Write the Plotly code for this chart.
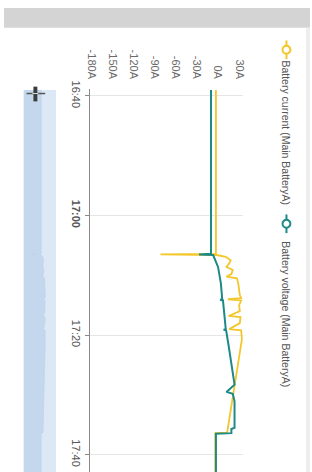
import plotly.graph_objects as go

W, H = 312, 472
DAY = "2024-01-01 "

# ---- data ----
current_times = ["16:39:00", "16:45:00", "16:50:00", "16:55:00", "17:00:00", "17:05:00",
                 "17:06:24", "17:06:30", "17:06:36", "17:06:54", "17:07:30", "17:08:00",
                 "17:08:36", "17:09:06", "17:09:48", "17:10:12", "17:10:30", "17:11:30",
                 "17:12:30", "17:13:18", "17:13:48", "17:14:00", "17:14:12", "17:15:00",
                 "17:16:00", "17:16:48", "17:17:00", "17:18:00", "17:19:00", "17:19:12",
                 "17:20:42", "17:23:00", "17:25:00", "17:27:12", "17:28:54", "17:30:30",
                 "17:32:00", "17:33:48", "17:36:00", "17:36:18", "17:36:24", "17:40:00",
                 "17:43:30"]
current_values = [-3, -3, -3, -3, -3, -3,
                  -3, -82, -2, 11, 18, 16,
                  12, 21, 19, 12, 27, 29,
                  30, 31, 33, 14, 33, 30,
                  31, 15, 32, 31, 16, 33,
                  34, 31, 28, 25, 23, 21,
                  19, 16, 13, 13, -4, -4,
                  -4]

voltage_times = ["16:39:00", "16:45:00", "16:50:00", "16:55:00", "17:00:00", "17:05:00",
                 "17:06:24", "17:06:30", "17:06:36", "17:08:36", "17:11:18", "17:14:00",
                 "17:14:06", "17:14:12", "17:16:48", "17:19:00", "17:19:06", "17:19:12",
                 "17:21:42", "17:26:42", "17:28:18", "17:29:30", "17:29:48", "17:31:06",
                 "17:35:30", "17:35:42", "17:36:24", "17:36:30", "17:40:00", "17:43:30"]
voltage_values = [-10, -10, -10, -10, -10, -10,
                  -10, -27, -7, 0, 4, 6,
                  3, 7, 9, 11, 8, 11.5,
                  15, 21, 23.5, 12, 21, 23.5,
                  23.5, 19, 19, -3, -3, -3]

time_ticks = ["16:40", "17:00", "17:20", "17:40"]
time_tick_labels = ["16:40", "<b>17:00</b>", "17:20", "17:40"]
value_ticks = [-180, -150, -120, -90, -60, -30, 0, 30]
value_tick_labels = ["-180A", "-150A", "-120A", "-90A", "-60A", "-30A", "0A", "30A"]
series_names = ["Battery current (Main BatteryA)", "Battery voltage (Main BatteryA)"]

TIME_RANGE = ["17:42:54", "16:38:46"]   # bottom, top (reversed)
VALUE_RANGE = [-182, 36]
NAV_RANGE = [-165, 132]

YELLOW = "#f3c62a"
TEAL = "#1d8a88"


def px(x):
    return x / W


def py(y):
    return 1 - y / H


ct = [DAY + t for t in current_times]
vt = [DAY + t for t in voltage_times]

fig = go.Figure()

# navigator (mini area series of current)
fig.add_trace(go.Scatter(x=[NAV_RANGE[0]] * len(ct), y=ct, xaxis="x2", yaxis="y2",
                         mode="lines", line=dict(width=0, color="rgba(0,0,0,0)"),
                         hoverinfo="skip", showlegend=False))
fig.add_trace(go.Scatter(x=current_values, y=ct, xaxis="x2", yaxis="y2",
                         mode="lines", fill="tonextx", fillcolor="#c4d7ed",
                         line=dict(width=0.5, color="#b9cfe8"),
                         hoverinfo="skip", showlegend=False))

# main series
fig.add_trace(go.Scatter(x=current_values, y=ct, mode="lines", name=series_names[0],
                         line=dict(color=YELLOW, width=1.8), showlegend=False))
fig.add_trace(go.Scatter(x=voltage_values, y=vt, mode="lines", name=series_names[1],
                         line=dict(color=TEAL, width=2), showlegend=False))

font = "Liberation Sans, Arial, sans-serif"

shapes = [
    # header bar
    dict(type="rect", xref="paper", yref="paper", x0=0, x1=1, y0=py(20), y1=1,
         fillcolor="#d4d4d4", line=dict(width=0), layer="below"),
    # right edge strip
    dict(type="rect", xref="paper", yref="paper", x0=px(308), x1=1, y0=0, y1=py(20),
         fillcolor="#eeeeee", line=dict(width=0), layer="below"),
    # navigator background
    dict(type="rect", xref="x2 domain", yref="y2", x0=0, x1=1,
         y0=ct[0], y1=ct[-1], fillcolor="#dce8f5", line=dict(width=0), layer="below"),
    # navigator handle
    dict(type="line", xref="paper", yref="paper", x0=px(23), x1=px(42), y0=py(87), y1=py(87),
         line=dict(color="#555555", width=1.5)),
    dict(type="rect", xref="paper", yref="paper", x0=px(30), x1=px(34), y0=py(95), y1=py(80),
         fillcolor="#3c3c3c", line=dict(width=0)),
    dict(type="line", xref="paper", yref="paper", x0=px(29), x1=px(35), y0=py(87), y1=py(87),
         line=dict(color="#dddddd", width=1)),
    # legend symbols
    dict(type="line", xref="paper", yref="paper", x0=px(288), x1=px(288), y0=py(33), y1=py(52),
         line=dict(color=YELLOW, width=2)),
    dict(type="circle", xref="paper", yref="paper", x0=px(284), x1=px(292), y0=py(46.5), y1=py(38.5),
         fillcolor="white", line=dict(color=YELLOW, width=2)),
    dict(type="line", xref="paper", yref="paper", x0=px(288), x1=px(288), y0=py(210), y1=py(229),
         line=dict(color=TEAL, width=2)),
    dict(type="circle", xref="paper", yref="paper", x0=px(284), x1=px(292), y0=py(223.5), y1=py(215.5),
         fillcolor="white", line=dict(color=TEAL, width=2)),
]

annotations = [
    dict(text=series_names[0], xref="paper", yref="paper", x=px(288), y=py(127),
         textangle=90, showarrow=False, font=dict(family=font, size=10.5, color="#555555"),
         xanchor="center", yanchor="middle"),
    dict(text=series_names[1], xref="paper", yref="paper", x=px(288), y=py(312),
         textangle=90, showarrow=False, font=dict(family=font, size=10.5, color="#555555"),
         xanchor="center", yanchor="middle"),
]

fig.update_layout(
    width=W, height=H,
    margin=dict(l=0, r=0, t=0, b=0),
    paper_bgcolor="white", plot_bgcolor="white",
    showlegend=False, hovermode=False,
    font=dict(family=font, size=11, color="#666666"),
    xaxis=dict(domain=[px(88), px(244)], side="top", anchor="y",
               range=VALUE_RANGE, tickvals=value_ticks, ticktext=value_tick_labels,
               tickangle=90, showgrid=False, zeroline=False, showline=False,
               ticks="", ticklabelstandoff=7, tickfont=dict(size=11, color="#6a6a6a")),
    yaxis=dict(domain=[0, py(82)], anchor="x", type="date",
               range=[DAY + TIME_RANGE[0], DAY + TIME_RANGE[1]],
               tickvals=[DAY + t for t in time_ticks], ticktext=time_tick_labels,
               tickangle=90, showgrid=True, gridcolor="#e6e6e6", gridwidth=1,
               zeroline=False, showline=True, linecolor="#8a8a8a", linewidth=1,
               ticks="outside", ticklen=4, tickcolor="#8a8a8a",
               tickfont=dict(size=11, color="#555555")),
    xaxis2=dict(domain=[px(20), px(53)], anchor="y2", range=NAV_RANGE, visible=False),
    yaxis2=dict(domain=[0, py(82)], anchor="x2", type="date",
                range=[DAY + TIME_RANGE[0], DAY + TIME_RANGE[1]], visible=False),
    shapes=shapes, annotations=annotations,
)

fig.write_html("out.html", config={"displayModeBar": False},
               post_script="document.body.style.margin='0px';document.body.style.overflow='hidden';")
